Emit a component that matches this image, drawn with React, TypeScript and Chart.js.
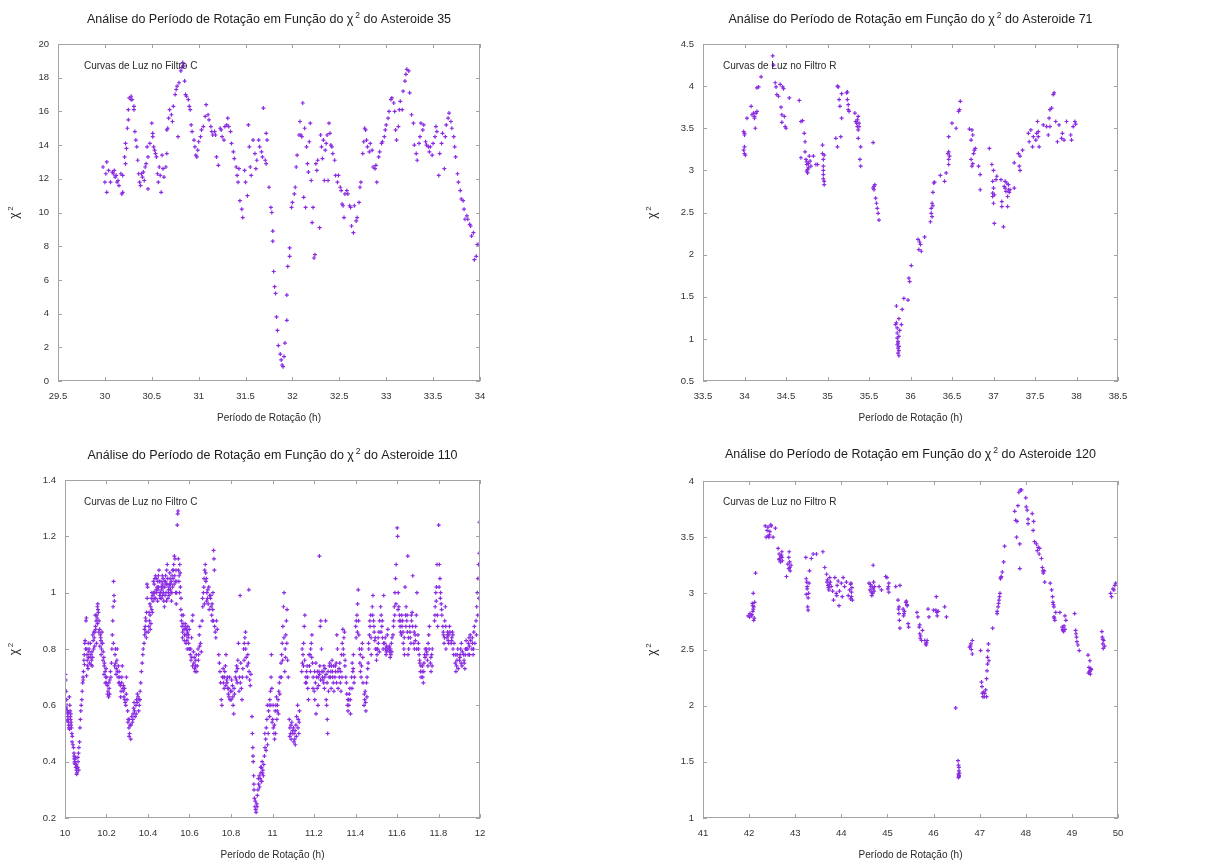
import { useEffect, useRef } from 'react';
import { Chart, registerables } from 'chart.js';

Chart.register(...registerables);

type Pt = [number, number];

// ---------- DATA ----------
const asteroid35: Pt[] = [
  [29.98,12.7],[30.0,11.8],[30.02,11.2],[30.01,12.3],[30.02,13.0],[30.04,12.5],[30.06,11.8],[30.08,12.4],[30.09,12.3],[30.10,12.5],
  [30.11,12.1],[30.12,12.2],[30.13,11.8],[30.14,11.9],[30.15,11.6],[30.17,12.3],[30.18,11.1],[30.19,11.2],[30.19,12.2],[30.21,13.3],
  [30.22,12.9],[30.22,14.1],[30.23,13.8],[30.24,15.0],[30.25,15.5],[30.25,16.1],[30.26,16.8],[30.28,16.7],[30.28,16.9],[30.29,16.7],
  [30.31,16.3],[30.31,16.1],[30.32,14.8],[30.33,14.3],[30.34,13.9],[30.35,13.1],[30.36,12.3],[30.37,11.8],[30.38,11.6],[30.39,12.3],
  [30.40,12.1],[30.41,12.4],[30.42,11.9],[30.43,12.7],[30.44,12.9],[30.45,13.9],[30.46,13.3],[30.46,11.4],[30.48,14.1],[30.50,15.3],
  [30.51,14.7],[30.51,14.5],[30.52,13.9],[30.53,13.7],[30.54,13.5],[30.55,13.3],[30.56,12.3],[30.57,11.8],[30.58,12.7],[30.59,12.2],
  [30.60,11.2],[30.61,13.4],[30.62,12.6],[30.63,12.1],[30.65,12.7],[30.66,13.5],[30.66,14.9],[30.67,15.0],[30.68,15.6],[30.69,16.1],
  [30.71,15.8],[30.72,15.4],[30.73,16.3],[30.75,17.0],[30.76,17.3],[30.77,17.5],[30.78,14.5],[30.79,17.7],[30.81,18.4],[30.82,18.6],
  [30.83,18.9],[30.84,18.7],[30.85,17.8],[30.86,17.0],[30.87,16.9],[30.89,16.7],[30.90,16.3],[30.91,16.1],[30.92,15.2],[30.93,14.8],
  [30.95,14.3],[30.96,13.9],[30.97,13.4],[30.98,13.3],[30.99,13.7],[31.0,14.2],[31.02,14.5],[31.03,14.9],[31.05,15.1],[31.07,15.7],
  [31.08,16.4],[31.10,15.8],[31.11,15.5],[31.13,15.1],[31.14,14.8],[31.15,14.6],[31.17,14.8],[31.18,14.6],[31.19,13.3],[31.21,12.8],
  [31.23,15.0],[31.24,14.9],[31.25,14.5],[31.27,14.3],[31.28,15.1],[31.30,15.2],[31.31,15.6],[31.32,15.1],[31.34,14.8],[31.35,14.1],
  [31.37,13.6],[31.38,13.2],[31.40,12.7],[31.41,12.2],[31.42,11.8],[31.43,12.6],[31.44,10.7],[31.46,10.2],[31.47,9.7],[31.49,12.5],
  [31.50,11.8],[31.52,11.0],[31.53,15.2],[31.54,13.9],[31.55,12.7],[31.56,12.2],[31.58,14.3],[31.60,13.5],[31.61,12.6],[31.62,13.1],
  [31.64,14.3],[31.65,13.9],[31.67,13.6],[31.68,13.3],[31.69,16.2],[31.71,13.1],[31.72,12.9],[31.72,14.7],[31.73,14.3],[31.75,11.5],
  [31.77,10.3],[31.78,10.0],[31.79,8.9],[31.79,8.3],[31.80,6.5],[31.81,5.6],[31.82,5.2],[31.83,3.8],[31.84,3.0],[31.85,2.1],
  [31.87,1.6],[31.88,1.25],[31.89,0.95],[31.90,0.85],[31.91,1.45],[31.92,2.25],[31.94,3.6],[31.94,5.1],[31.95,6.8],[31.97,7.4],
  [31.97,7.9],[31.99,10.3],[32.0,10.6],[32.02,11.1],[32.03,11.5],[32.04,12.7],[32.05,13.4],[32.07,14.6],[32.08,15.4],[32.09,14.6],
  [32.10,14.5],[32.11,16.5],[32.12,10.9],[32.13,15.0],[32.14,10.3],[32.15,13.9],[32.16,12.9],[32.17,12.4],[32.18,14.2],[32.19,15.3],
  [32.20,11.9],[32.21,9.4],[32.22,10.3],[32.23,7.3],[32.24,7.5],[32.25,12.9],[32.26,12.5],[32.27,13.1],[32.29,9.1],[32.30,14.6],
  [32.31,13.9],[32.32,13.2],[32.33,14.3],[32.34,11.9],[32.35,13.7],[32.36,14.1],[32.37,14.6],[32.38,11.9],[32.39,15.3],[32.40,14.7],
  [32.41,14.0],[32.42,13.9],[32.43,13.5],[32.45,13.1],[32.46,12.2],[32.48,11.8],[32.49,12.2],[32.51,11.5],[32.52,11.3],[32.53,10.5],
  [32.54,10.4],[32.55,9.7],[32.56,11.1],[32.58,11.3],[32.59,11.1],[32.61,10.4],[32.62,10.3],[32.63,9.2],[32.65,8.8],[32.66,10.4],
  [32.68,9.5],[32.69,9.7],[32.71,10.6],[32.72,11.5],[32.73,11.8],[32.75,13.5],[32.76,14.2],[32.77,15.0],[32.78,14.9],[32.79,14.3],
  [32.80,13.9],[32.82,13.6],[32.83,14.1],[32.85,13.7],[32.86,12.7],[32.88,12.6],[32.89,12.8],[32.90,11.8],[32.92,13.3],[32.93,13.6],
  [32.95,14.1],[32.96,14.2],[32.98,14.5],[32.99,14.9],[33.0,15.2],[33.02,15.6],[33.03,16.0],[33.05,16.7],[33.06,16.8],[33.08,16.5],
  [33.09,16.0],[33.10,14.9],[33.11,14.3],[33.13,15.1],[33.14,16.1],[33.15,16.6],[33.17,16.1],[33.18,17.2],[33.20,17.8],[33.21,18.2],
  [33.22,18.5],[33.24,18.4],[33.25,17.1],[33.27,15.8],[33.29,15.3],[33.30,14.0],[33.32,13.5],[33.33,13.1],[33.35,14.1],[33.36,14.5],
  [33.37,15.3],[33.39,14.9],[33.40,15.2],[33.42,14.2],[33.43,14.0],[33.45,13.9],[33.46,13.6],[33.47,13.9],[33.49,13.4],[33.50,14.1],
  [33.52,14.5],[33.53,15.1],[33.54,14.8],[33.56,12.2],[33.57,13.5],[33.59,14.1],[33.60,14.7],[33.62,12.6],[33.63,14.5],[33.64,15.2],
  [33.66,15.6],[33.67,15.9],[33.69,15.4],[33.70,15.0],[33.72,14.5],[33.73,13.9],[33.74,13.3],[33.76,12.3],[33.77,11.8],[33.79,11.3],
  [33.80,10.8],[33.82,10.7],[33.83,10.2],[33.84,9.6],[33.86,9.8],[33.87,9.6],[33.89,9.3],[33.90,9.2],[33.91,8.6],[33.93,8.8],
  [33.94,7.2],[33.96,7.4],[33.97,8.1],[33.99,8.1],
];

const asteroid71: Pt[] = [
  [33.99,3.46],[34.0,3.42],[34.0,3.28],[33.99,3.24],[34.0,3.2],[34.01,3.18],[34.0,3.44],
  [34.03,3.62],[34.08,3.76],[34.09,3.66],[34.11,3.68],[34.12,3.62],[34.13,3.5],[34.14,3.68],[34.15,3.7],[34.12,3.64],
  [34.15,3.98],[34.17,3.99],[34.2,4.11],
  [34.34,4.36],[34.35,4.25],[34.37,4.04],[34.38,3.99],
  [34.39,3.9],[34.41,3.88],[34.43,4.02],[34.44,3.75],[34.45,3.66],[34.45,3.57],[34.46,3.99],[34.47,3.97],[34.48,3.64],[34.49,3.52],[34.5,3.5],
  [34.54,3.86],
  [34.66,3.83],[34.68,3.58],[34.7,3.59],[34.72,3.44],[34.73,3.34],[34.73,3.22],[34.74,3.13],[34.75,3.07],[34.76,3.01],[34.76,2.97],
  [34.77,3.03],[34.78,3.17],[34.79,3.11],[34.8,3.05],[34.68,3.15],[34.75,2.99],[34.77,3.08],[34.75,3.1],
  [34.83,3.17],[34.86,3.07],[34.88,3.07],[34.94,3.3],[34.94,3.2],[34.95,3.13],[34.95,3.05],[34.95,3.0],[34.95,2.95],[34.96,2.87],
  [34.96,2.83],[34.95,2.9],[34.96,3.18],
  [35.1,3.38],[35.12,3.28],[35.12,4.0],[35.13,3.99],[35.14,3.84],[35.15,3.76],[35.16,3.4],[35.17,3.62],[35.17,3.91],[35.24,3.93],
  [35.24,3.84],[35.25,3.78],[35.25,3.72],[35.26,3.7],[35.23,3.92],
  [35.33,3.68],[35.34,3.58],[35.35,3.56],[35.36,3.52],[35.37,3.48],[35.37,3.64],[35.37,3.38],[35.38,3.52],[35.39,3.13],[35.4,3.05],
  [35.4,3.28],[35.36,3.6],[35.38,3.56],
  [35.55,3.33],
  [35.55,2.79],[35.56,2.77],[35.57,2.83],[35.58,2.67],[35.59,2.61],[35.6,2.55],[35.61,2.49],[35.62,2.41],[35.56,2.81],
  [35.83,1.39],[35.82,1.17],[35.83,1.19],[35.84,1.13],[35.84,1.07],[35.84,1.01],[35.85,0.95],[35.85,0.89],[35.85,0.83],[35.86,0.8],
  [35.86,0.91],[35.86,1.03],[35.86,1.24],[35.87,1.1],[35.89,1.17],[35.9,1.35],[35.92,1.48],[35.97,1.46],[35.98,1.72],[35.99,1.68],
  [36.01,1.87],[35.85,0.97],[35.86,0.86],[35.84,0.93],
  [36.09,2.18],[36.1,2.06],[36.12,2.12],[36.13,2.04],[36.11,2.15],[36.17,2.21],
  [36.24,2.39],[36.25,2.49],[36.25,2.55],[36.26,2.61],[36.27,2.74],[36.28,2.85],[36.29,2.86],[36.26,2.45],[36.27,2.58],
  [36.36,2.94],[36.41,2.87],[36.43,2.97],[36.45,3.2],[36.46,3.13],[36.46,3.07],[36.46,3.4],[36.47,3.17],[36.46,3.22],
  [36.5,3.56],[36.55,3.5],[36.58,3.7],[36.59,3.72],[36.6,3.82],
  [36.71,3.49],[36.73,3.36],[36.73,3.13],[36.74,3.05],[36.74,3.48],[36.75,3.42],[36.75,3.08],[36.76,3.2],[36.77,3.24],[36.78,3.26],
  [36.82,3.05],[36.84,2.95],[36.84,2.77],
  [36.95,3.26],[36.98,3.07],[36.99,2.87],[36.99,2.73],[36.99,2.69],[37.0,2.61],[37.0,3.0],[37.0,2.79],[37.01,2.37],[37.03,2.89],
  [37.04,2.93],[37.01,2.71],
  [37.09,2.89],[37.1,2.63],[37.1,2.57],[37.12,2.33],[37.13,2.81],[37.14,2.87],[37.14,2.79],[37.15,2.75],[37.17,2.69],[37.17,2.57],
  [37.18,2.83],[37.18,2.77],[37.2,2.77],[37.25,2.79],[37.16,2.85],[37.19,2.74],
  [37.25,3.09],[37.3,3.2],[37.31,3.05],[37.32,3.0],[37.32,3.17],[37.35,3.24],
  [37.42,3.44],[37.43,3.34],[37.45,3.48],[37.47,3.28],[37.48,3.4],[37.51,3.36],[37.52,3.44],[37.53,3.58],[37.54,3.46],[37.55,3.28],
  [37.54,3.4],
  [37.6,3.54],[37.64,3.52],[37.66,3.42],[37.67,3.62],[37.68,3.72],[37.68,3.52],[37.7,3.74],[37.72,3.9],[37.73,3.92],
  [37.75,3.58],[37.77,3.34],[37.79,3.54],[37.82,3.38],[37.83,3.44],[37.85,3.36],[37.88,3.58],[37.93,3.42],[37.94,3.36],[37.96,3.52],
  [37.98,3.58],[37.99,3.55],
];

const asteroid110: Pt[] = [
  [10.002,0.71],[10.004,0.69],[10.006,0.65],[10.008,0.62],[10.01,0.6],[10.012,0.58],[10.014,0.56],[10.015,0.55],[10.017,0.54],[10.018,0.53],[10.013,0.57],[10.019,0.52],
  [10.021,0.63],[10.023,0.6],[10.025,0.58],[10.027,0.55],[10.029,0.53],[10.031,0.52],[10.033,0.5],[10.035,0.49],[10.038,0.46],[10.026,0.56],[10.03,0.54],
  [10.041,0.45],[10.043,0.43],[10.045,0.41],[10.047,0.40],[10.05,0.39],[10.052,0.38],[10.055,0.37],[10.048,0.41],[10.044,0.42],[10.058,0.36],[10.054,0.39],[10.057,0.38],
  [10.061,0.38],[10.063,0.40],[10.065,0.43],[10.067,0.45],[10.07,0.47],[10.072,0.52],[10.074,0.55],[10.076,0.58],[10.078,0.6],
  [10.081,0.62],[10.083,0.65],[10.085,0.68],[10.087,0.7],[10.089,0.72],[10.091,0.76],[10.093,0.78],[10.095,0.82],[10.097,0.83],[10.088,0.69],
  [10.101,0.9],[10.103,0.91],[10.105,0.8],[10.107,0.76],[10.109,0.74],[10.111,0.73],[10.113,0.77],[10.115,0.79],[10.118,0.75],[10.106,0.78],[10.112,0.82],
  [10.122,0.82],[10.125,0.78],[10.128,0.76],[10.131,0.74],[10.134,0.85],[10.138,0.8],[10.13,0.79],[10.136,0.83],
  [10.141,0.84],[10.144,0.86],[10.147,0.88],[10.15,0.9],[10.153,0.92],[10.156,0.95],[10.158,0.96],[10.152,0.82],[10.148,0.87],[10.155,0.91],
  [10.161,0.93],[10.164,0.9],[10.167,0.87],[10.17,0.85],[10.173,0.83],[10.176,0.8],[10.179,0.82],[10.172,0.84],[10.168,0.81],
  [10.181,0.82],[10.184,0.79],[10.187,0.77],[10.19,0.75],[10.193,0.72],[10.196,0.7],[10.199,0.68],[10.189,0.74],
  [10.201,0.7],[10.204,0.67],[10.207,0.65],[10.21,0.63],[10.213,0.66],[10.216,0.69],[10.219,0.72],[10.205,0.64],
  [10.221,0.7],[10.224,0.75],[10.226,0.8],[10.228,0.85],[10.23,0.9],[10.232,0.95],[10.234,1.04],[10.236,0.99],[10.238,0.97],[10.233,0.82],
  [10.241,0.78],[10.244,0.75],[10.247,0.73],[10.25,0.76],[10.253,0.72],[10.256,0.7],[10.259,0.68],[10.243,0.8],
  [10.261,0.72],[10.264,0.7],[10.267,0.67],[10.27,0.65],[10.273,0.68],[10.276,0.74],[10.279,0.66],
  [10.281,0.65],[10.284,0.63],[10.287,0.66],[10.29,0.61],[10.293,0.6],[10.296,0.7],[10.299,0.62],
  [10.302,0.58],[10.305,0.55],[10.308,0.52],[10.311,0.5],[10.314,0.53],[10.317,0.48],[10.31,0.55],
  [10.322,0.56],[10.325,0.54],[10.328,0.57],[10.331,0.59],[10.335,0.58],[10.338,0.56],
  [10.342,0.6],[10.345,0.62],[10.348,0.61],[10.352,0.63],[10.355,0.58],[10.358,0.6],
  [10.362,0.65],[10.365,0.68],[10.368,0.72],[10.372,0.75],[10.375,0.78],[10.361,0.62],
  [10.381,0.82],[10.384,0.85],[10.387,0.88],[10.39,0.9],[10.393,0.93],[10.396,0.98],[10.398,1.02],[10.395,1.03],[10.39,0.86],
  [10.401,0.86],[10.404,0.88],[10.407,0.9],[10.41,0.92],[10.413,0.95],[10.416,0.98],[10.419,1.0],[10.411,0.87],
  [10.421,0.93],[10.424,0.97],[10.427,1.0],[10.43,1.03],[10.433,1.05],[10.436,1.06],[10.439,1.01],[10.43,0.98],
  [10.441,1.0],[10.444,1.02],[10.447,1.04],[10.45,1.06],[10.453,1.08],[10.456,0.99],[10.459,0.98],[10.448,1.01],
  [10.461,1.0],[10.464,1.02],[10.467,1.01],[10.47,0.99],[10.473,1.05],[10.476,0.97],[10.479,0.95],[10.47,1.03],
  [10.481,1.02],[10.484,1.04],[10.487,1.0],[10.49,1.08],[10.493,1.1],[10.496,0.98],[10.499,1.01],[10.488,1.03],
  [10.501,1.02],[10.504,1.03],[10.507,1.05],[10.51,1.0],[10.513,0.97],[10.516,1.06],[10.519,1.08],[10.508,1.01],
  [10.521,1.05],[10.524,1.1],[10.527,1.13],[10.53,1.12],[10.533,1.0],[10.536,0.96],[10.539,1.04],
  [10.541,1.24],[10.543,1.28],[10.545,1.29],[10.547,1.08],[10.55,1.06],[10.553,1.1],[10.556,1.02],[10.559,0.98],
  [10.561,0.9],[10.564,0.88],[10.567,0.86],[10.57,0.92],[10.573,0.87],[10.576,0.85],[10.579,0.89],
  [10.581,0.88],[10.584,0.85],[10.587,0.83],[10.59,0.86],[10.593,0.84],[10.596,0.82],[10.599,0.87],
  [10.601,0.8],[10.604,0.78],[10.607,0.76],[10.61,0.84],[10.613,0.9],[10.616,0.92],[10.619,0.79],
  [10.621,0.75],[10.624,0.73],[10.627,0.72],[10.63,0.76],[10.633,0.78],[10.637,0.74],
  [10.641,0.8],[10.644,0.78],[10.647,0.85],[10.65,0.88],[10.653,0.82],[10.657,0.79],
  [10.661,0.9],[10.664,0.95],[10.667,1.0],[10.67,1.05],[10.673,1.08],[10.676,1.1],[10.679,1.04],
  [10.681,1.05],[10.684,1.0],[10.687,0.98],[10.69,0.96],[10.693,1.02],[10.697,0.99],
  [10.701,0.98],[10.704,0.95],[10.707,0.92],[10.71,0.9],[10.713,1.0],[10.716,1.15],[10.718,1.12],[10.712,0.94],
  [10.721,0.88],[10.724,0.86],[10.727,0.84],[10.73,0.9],[10.734,0.87],
  [10.741,0.78],[10.744,0.75],[10.747,0.72],[10.75,0.68],[10.753,0.62],[10.756,0.6],[10.759,0.7],
  [10.761,0.7],[10.764,0.68],[10.767,0.66],[10.77,0.72],[10.773,0.74],[10.776,0.78],[10.779,0.69],
  [10.781,0.68],[10.784,0.66],[10.787,0.64],[10.79,0.63],[10.793,0.7],[10.797,0.65],
  [10.801,0.62],[10.804,0.65],[10.807,0.67],[10.81,0.6],[10.813,0.57],[10.817,0.64],
  [10.821,0.7],[10.824,0.72],[10.827,0.74],[10.83,0.68],[10.833,0.76],[10.836,0.82],[10.839,0.65],
  [10.841,0.7],[10.844,0.99],[10.847,0.75],[10.85,0.66],[10.853,0.62],[10.857,0.73],
  [10.861,0.8],[10.864,0.82],[10.867,0.84],[10.87,0.86],[10.873,0.77],[10.876,0.7],
  [10.881,0.78],[10.884,0.75],[10.887,0.72],[10.89,0.69],[10.886,1.01],[10.893,0.67],[10.896,0.71],
  [10.901,0.56],[10.903,0.5],[10.905,0.45],[10.907,0.4],[10.909,0.35],[10.911,0.3],[10.913,0.27],[10.915,0.24],[10.906,0.42],[10.91,0.32],
  [10.921,0.22],[10.924,0.25],[10.927,0.28],[10.93,0.3],[10.933,0.32],[10.936,0.35],[10.919,0.23],
  [10.941,0.34],[10.944,0.36],[10.947,0.38],[10.95,0.4],[10.953,0.37],[10.956,0.35],[10.948,0.33],
  [10.961,0.42],[10.964,0.45],[10.967,0.48],[10.97,0.52],[10.973,0.55],[10.976,0.46],
  [10.981,0.58],[10.984,0.6],[10.987,0.62],[10.99,0.65],[10.993,0.7],[10.995,0.78],[10.998,0.54],
  [11.001,0.55],[11.004,0.52],[11.007,0.5],[11.01,0.48],[11.013,0.58],[11.016,0.6],[11.019,0.63],
  [11.021,0.55],[11.024,0.6],[11.027,0.62],[11.03,0.65],[11.033,0.68],[11.037,0.7],
  [11.041,0.75],[11.044,0.78],[11.047,0.82],[11.05,0.88],[11.053,0.95],[11.056,1.0],[11.059,0.72],
  [11.061,0.8],[11.064,0.85],[11.067,0.9],[11.07,0.94],[11.073,0.76],[11.076,0.7],
  [11.081,0.55],[11.084,0.52],[11.087,0.5],[11.09,0.48],[11.093,0.54],[11.097,0.51],
  [11.101,0.52],[11.104,0.5],[11.107,0.48],[11.11,0.46],[11.113,0.53],[11.116,0.56],
  [11.121,0.6],[11.124,0.55],[11.127,0.5],[11.13,0.58],
  [11.141,0.72],[11.144,0.75],[11.147,0.78],[11.15,0.82],[11.153,0.88],[11.156,0.92],[11.159,0.68],
  [11.161,0.7],[11.164,0.72],[11.167,0.74],[11.17,0.66],[11.173,0.62],[11.176,0.78],
  [11.181,0.78],[11.184,0.8],[11.187,0.82],[11.19,0.85],[11.193,0.75],[11.196,0.7],
  [11.201,0.65],[11.204,0.62],[11.207,0.68],[11.21,0.57],[11.213,0.7],[11.216,0.72],[11.219,0.6],
  [11.221,0.7],[11.224,0.72],[11.227,0.71],[11.23,0.88],[11.233,0.9],[11.226,1.13],[11.236,0.8],
  [11.241,0.7],[11.244,0.72],[11.247,0.68],[11.25,0.66],[11.253,0.73],[11.256,0.9],[11.259,0.62],
  [11.261,0.6],[11.264,0.55],[11.266,0.5],[11.27,0.65],[11.273,0.7],[11.276,0.75],
  [11.281,0.72],[11.284,0.74],[11.287,0.76],[11.29,0.7],[11.293,0.68],[11.296,0.65],
  [11.301,0.7],[11.304,0.72],[11.307,0.75],[11.31,0.85],[11.313,0.8],[11.316,0.66],
  [11.321,0.73],[11.324,0.75],[11.327,0.68],[11.33,0.65],[11.333,0.78],[11.336,0.82],[11.339,0.87],
  [11.341,0.8],[11.344,0.84],[11.347,0.86],[11.35,0.76],[11.353,0.7],[11.356,0.68],
  [11.361,0.6],[11.364,0.58],[11.367,0.62],[11.37,0.64],[11.373,0.66],[11.376,0.57],
  [11.381,0.7],[11.384,0.75],[11.387,0.72],[11.39,0.78],[11.393,0.68],
  [11.401,0.88],[11.404,0.9],[11.407,0.92],[11.41,0.96],[11.413,1.01],[11.416,0.85],[11.419,0.8],
  [11.421,0.75],[11.424,0.72],[11.427,0.7],[11.43,0.8],[11.433,0.82],[11.436,0.68],
  [11.441,0.6],[11.444,0.62],[11.447,0.65],[11.45,0.58],[11.453,0.68],[11.456,0.7],[11.459,0.73],
  [11.461,0.75],[11.464,0.8],[11.467,0.85],[11.47,0.88],[11.473,0.92],[11.476,0.78],
  [11.481,0.95],[11.484,0.99],[11.487,0.9],[11.49,0.86],[11.493,0.83],[11.496,0.8],
  [11.501,0.76],[11.504,0.78],[11.507,0.8],[11.51,0.82],[11.513,0.86],[11.516,0.9],
  [11.521,0.95],[11.524,0.92],[11.527,0.88],[11.53,0.84],[11.533,0.8],[11.536,0.99],
  [11.541,0.82],[11.544,0.8],[11.547,0.78],[11.55,0.81],[11.553,0.85],[11.556,0.87],
  [11.561,0.8],[11.564,0.79],[11.567,0.77],[11.57,0.78],[11.573,0.82],[11.576,0.84],
  [11.581,0.85],[11.584,0.9],[11.587,0.95],[11.59,1.0],[11.593,1.05],[11.596,1.1],
  [11.601,1.23],[11.603,1.2],[11.606,1.0],[11.609,0.95],[11.612,0.92],[11.615,0.88],[11.618,0.9],
  [11.621,0.85],[11.624,0.88],[11.627,0.9],[11.63,0.82],[11.633,0.8],[11.636,0.78],[11.639,1.02],
  [11.641,0.92],[11.644,0.95],[11.647,0.9],[11.65,0.86],[11.653,0.78],[11.656,0.8],[11.652,1.13],
  [11.661,0.88],[11.664,0.84],[11.667,0.82],[11.67,0.9],[11.673,0.93],[11.676,1.06],
  [11.681,0.82],[11.684,0.8],[11.687,0.85],[11.69,0.88],[11.693,0.92],[11.696,1.0],
  [11.701,0.85],[11.704,0.8],[11.707,0.78],[11.71,0.75],[11.713,0.72],[11.716,0.7],
  [11.721,0.72],[11.724,0.7],[11.727,0.68],[11.73,0.75],[11.733,0.78],[11.736,0.8],
  [11.741,0.8],[11.744,0.78],[11.747,0.76],[11.75,0.82],[11.753,0.85],[11.756,0.88],
  [11.761,0.75],[11.764,0.72],[11.767,0.78],[11.77,0.8],
  [11.781,0.9],[11.784,0.95],[11.787,1.0],[11.79,1.02],[11.793,1.1],[11.796,0.88],
  [11.801,1.24],[11.804,1.1],[11.807,1.05],[11.81,1.0],[11.813,0.96],[11.816,0.92],
  [11.821,0.88],[11.824,0.85],[11.827,0.82],[11.83,0.9],[11.833,0.95],[11.836,0.8],
  [11.841,0.84],[11.844,0.86],[11.847,0.83],[11.85,0.85],[11.853,0.88],
  [11.861,0.82],[11.864,0.84],[11.867,0.86],[11.87,0.8],[11.873,0.78],
  [11.881,0.75],[11.884,0.72],[11.887,0.74],[11.89,0.78],[11.893,0.8],
  [11.901,0.76],[11.904,0.78],[11.907,0.8],[11.91,0.82],[11.913,0.74],
  [11.921,0.78],[11.924,0.75],[11.927,0.73],[11.93,0.8],[11.933,0.83],
  [11.941,0.8],[11.944,0.82],[11.947,0.84],[11.95,0.78],[11.953,0.85],
  [11.961,0.8],[11.964,0.82],[11.967,0.78],[11.97,0.86],[11.973,0.88],
  [11.981,0.9],[11.984,0.95],[11.987,1.0],[11.99,1.05],[11.993,1.1],[11.997,1.25],[11.995,0.98],
  [10.006,0.59],[10.011,0.545],[10.016,0.575],[10.022,0.515],[10.028,0.57],[10.034,0.47],[10.046,0.395],[10.051,0.415],[10.056,0.355],[10.062,0.415],[10.066,0.37],
  [10.094,0.745],[10.099,0.8],[10.104,0.705],[10.116,0.8],[10.121,0.77],[10.126,0.745],[10.133,0.77],[10.139,0.86],[10.143,0.81],[10.146,0.92],[10.157,0.89],
  [10.159,0.94],[10.163,0.86],[10.174,0.78],[10.178,0.86],[10.183,0.76],[10.188,0.71],[10.194,0.68],[10.198,0.73],
  [10.211,0.68],[10.215,0.64],[10.239,0.74],[10.246,0.71],[10.252,0.8],[10.257,0.74],[10.263,0.68],[10.268,0.63],[10.274,0.7],[10.282,0.67],[10.288,0.62],[10.295,0.64],
  [10.303,0.54],[10.309,0.49],[10.318,0.53],[10.327,0.55],[10.333,0.61],[10.343,0.57],[10.349,0.64],[10.357,0.62],
  [10.377,0.8],[10.383,0.87],[10.388,0.91],[10.392,0.84],[10.405,0.93],[10.409,0.96],[10.414,0.89],[10.418,0.94],[10.423,0.99],[10.426,1.04],[10.432,1.0],[10.437,0.98],
  [10.442,1.05],[10.446,0.97],[10.451,1.02],[10.455,1.04],[10.458,1.0],[10.463,1.04],[10.466,0.98],[10.469,1.06],[10.472,1.02],[10.475,1.0],[10.478,1.04],
  [10.482,0.99],[10.485,1.06],[10.489,0.97],[10.492,1.03],[10.495,1.05],[10.498,1.0],[10.502,0.99],[10.505,1.07],[10.509,1.03],[10.512,1.04],[10.515,1.0],[10.518,1.02],
  [10.522,1.08],[10.526,1.03],[10.529,1.06],[10.532,1.04],[10.535,1.08],[10.538,1.0],[10.546,1.12],[10.549,1.04],[10.552,1.0],[10.555,1.07],[10.558,0.94],
  [10.563,0.92],[10.566,0.84],[10.569,0.89],[10.575,0.83],[10.578,0.87],[10.583,0.82],[10.586,0.87],[10.589,0.8],[10.592,0.88],[10.595,0.85],[10.598,0.8],
  [10.606,0.8],[10.611,0.77],[10.615,0.74],[10.623,0.77],[10.629,0.74],[10.635,0.72],[10.643,0.76],[10.649,0.81],
  [10.663,0.98],[10.669,1.02],[10.672,0.96],[10.678,1.07],[10.683,0.97],[10.688,1.01],[10.695,0.94],[10.703,0.99],[10.709,0.96],[10.715,0.9],[10.72,1.08],
  [10.762,0.73],[10.768,0.7],[10.775,0.67],[10.783,0.7],[10.789,0.66],[10.795,0.62],[10.803,0.69],[10.809,0.63],[10.815,0.66],[10.826,0.69],[10.832,0.73],
  [10.845,0.68],[10.855,0.7],[10.863,0.76],[10.871,0.8],[10.878,0.74],[10.883,0.82],
  [10.917,0.26],[10.926,0.24],[10.932,0.34],[10.938,0.31],[10.943,0.38],[10.946,0.33],[10.952,0.36],[10.958,0.39],[10.963,0.5],[10.969,0.44],[10.975,0.6],
  [10.979,0.5],[10.986,0.56],[10.992,0.6],[10.997,0.66],
  [11.003,0.6],[11.009,0.53],[11.015,0.5],[11.023,0.58],[11.029,0.57],[11.035,0.64],[11.043,0.7],[11.049,0.76],[11.055,0.84],[11.063,0.77],[11.069,0.82],
  [11.083,0.49],[11.089,0.53],[11.095,0.5],[11.103,0.47],[11.109,0.51],[11.115,0.49],[11.123,0.52],[11.129,0.54],
  [11.143,0.8],[11.149,0.74],[11.155,0.76],[11.163,0.68],[11.169,0.7],[11.178,0.74],[11.183,0.72],[11.189,0.77],[11.195,0.66],
  [11.203,0.72],[11.209,0.75],[11.215,0.66],[11.222,0.67],[11.228,0.74],[11.232,0.69],[11.238,0.72],[11.243,0.69],[11.248,0.74],[11.252,0.7],[11.258,0.71],
  [11.263,0.68],[11.268,0.72],[11.274,0.74],[11.279,0.7],[11.283,0.66],[11.289,0.72],[11.295,0.74],[11.303,0.74],[11.309,0.68],[11.315,0.72],[11.322,0.7],
  [11.329,0.72],[11.335,0.7],
  [11.343,0.78],[11.349,0.74],[11.358,0.64],[11.363,0.62],[11.368,0.6],[11.375,0.62],[11.383,0.66],[11.389,0.73],[11.395,0.7],
  [11.403,0.84],[11.409,0.86],[11.415,0.9],[11.423,0.78],[11.429,0.74],[11.435,0.77],[11.443,0.64],[11.449,0.61],[11.455,0.63],[11.463,0.82],[11.469,0.9],[11.475,0.84],
  [11.483,0.92],[11.489,0.88],[11.495,0.84],[11.503,0.8],[11.509,0.84],[11.515,0.79],[11.523,0.86],[11.529,0.9],[11.535,0.82],
  [11.543,0.84],[11.549,0.79],[11.555,0.8],[11.563,0.81],[11.569,0.8],[11.575,0.79],[11.583,0.88],[11.589,0.92],[11.595,0.96],
  [11.605,0.94],[11.611,0.9],[11.617,0.86],[11.623,0.92],[11.629,0.86],[11.635,0.84],[11.643,0.88],[11.649,0.92],[11.655,0.84],[11.663,0.86],[11.669,0.92],
  [11.675,0.88],[11.683,0.86],[11.689,0.83],[11.695,0.8],
  [11.703,0.82],[11.709,0.76],[11.715,0.74],[11.723,0.74],[11.729,0.72],[11.735,0.77],[11.743,0.79],[11.749,0.74],[11.755,0.8],[11.763,0.77],[11.769,0.74],
  [11.783,0.92],[11.789,0.97],[11.795,0.92],[11.803,1.02],[11.809,0.98],[11.815,0.94],[11.823,0.86],[11.829,0.84],[11.835,0.88],[11.843,0.85],[11.849,0.82],
  [11.855,0.86],[11.863,0.83],[11.869,0.85],[11.875,0.82],
  [11.883,0.78],[11.889,0.76],[11.895,0.73],[11.903,0.77],[11.909,0.75],[11.915,0.79],[11.923,0.76],[11.929,0.78],[11.935,0.8],[11.943,0.78],[11.949,0.81],
  [11.955,0.83],[11.963,0.84],[11.969,0.8],[11.975,0.82],[11.983,0.85],[11.989,0.92],[11.996,1.14],
];

const asteroid120: Pt[] = [
  [41.98,2.80],[42.01,2.79],[42.02,2.82],[42.05,2.80],[42.07,2.91],[42.08,2.89],[42.09,2.86],[42.10,2.76],[42.09,3.0],[42.14,3.18],
  [42.08,2.84],[42.12,2.92],[42.1,2.88],[42.11,2.78],[42.06,2.81],
  [42.35,3.6],[42.39,3.56],[42.41,3.59],[42.43,3.5],[42.45,3.55],[42.48,3.6],[42.52,3.5],[42.57,3.58],[42.41,3.51],[42.37,3.5],
  [42.44,3.52],[42.47,3.61],
  [42.63,3.4],[42.65,3.35],[42.66,3.31],[42.68,3.28],[42.70,3.34],[42.71,3.37],[42.72,3.29],[42.65,3.3],[42.69,3.33],[42.71,3.32],
  [42.81,3.15],[42.84,3.26],[42.86,3.32],[42.88,3.23],[42.89,3.2],[42.87,3.37],[42.91,3.25],[42.86,3.22],[42.88,3.28],
  [43.23,3.32],[43.24,3.13],[43.26,3.04],[43.27,2.88],[43.28,2.85],[43.30,3.09],[43.31,3.2],[43.28,2.96],[43.24,2.99],[43.26,3.06],
  [43.25,3.1],[43.29,3.0],
  [43.35,3.31],[43.39,3.35],[43.46,3.35],[43.60,3.37],
  [43.64,3.23],[43.68,3.17],[43.69,3.10],[43.71,3.07],[43.73,3.03],[43.75,3.14],[43.78,3.06],[43.81,3.02],[43.76,3.10],[43.7,3.12],
  [43.72,3.05],[43.74,3.08],
  [43.83,2.94],[43.86,3.14],[43.89,3.0],[43.91,3.07],[43.95,2.89],[43.96,3.02],[44.0,3.09],[44.02,2.97],[44.04,3.14],[43.9,2.98],
  [43.93,3.11],
  [44.07,3.06],[44.11,3.10],[44.15,2.98],[44.18,3.03],[44.20,2.95],[44.21,3.09],[44.22,3.01],[44.24,2.94],[44.23,3.05],[44.2,3.08],
  [44.22,2.97],
  [44.60,3.09],[44.62,3.03],[44.64,3.06],[44.66,2.98],[44.67,3.06],[44.69,3.25],[44.70,3.10],[44.65,3.01],[44.72,3.06],[44.68,3.0],
  [44.63,3.08],[44.71,3.02],[44.69,3.04],
  [44.82,3.06],[44.87,3.03],[44.96,3.15],[44.99,3.14],[45.01,3.04],[45.03,3.01],[45.03,3.09],[45.02,3.06],
  [45.18,3.06],[45.27,3.07],[45.23,2.94],[45.24,2.86],[45.25,2.82],[45.26,2.76],[45.27,2.69],[45.34,2.86],[45.35,2.80],[45.37,2.84],
  [45.40,2.92],[45.41,2.93],[45.43,2.89],[45.45,2.73],[45.46,2.70],[45.25,2.88],[45.36,2.82],[45.42,2.9],
  [45.64,2.83],[45.66,2.79],[45.69,2.70],[45.70,2.64],[45.71,2.60],[45.74,2.58],[45.76,2.67],[45.81,2.58],[45.83,2.55],[45.84,2.54],
  [45.86,2.58],[45.88,2.86],[45.90,2.79],[45.72,2.62],[45.7,2.72],[45.85,2.56],
  [46.0,2.85],[46.05,2.85],[46.06,2.97],[46.08,2.80],[46.10,2.84],[46.24,2.88],[46.28,2.79],[46.07,2.83],
  [46.48,1.98],[46.53,1.51],[46.54,1.47],[46.55,1.42],[46.55,1.38],[46.54,1.36],[46.55,1.45],[46.56,1.4],[46.54,1.39],[46.55,1.37],
  [46.78,2.52],[46.81,2.55],[46.82,2.50],[46.84,2.46],[46.84,2.58],[46.8,2.53],
  [47.02,2.49],[47.04,2.21],[47.05,2.17],[47.06,2.11],[47.07,2.08],[47.11,2.11],[47.13,2.14],[47.15,2.24],[47.16,2.31],[47.17,2.37],
  [47.17,2.43],[47.18,2.49],[47.19,2.55],[47.20,2.40],[47.28,2.69],[47.15,2.08],[47.10,2.08],[47.08,2.12],
  [47.38,2.82],[47.40,2.88],[47.42,2.94],[47.44,3.0],[47.45,3.13],[47.47,3.15],[47.49,3.19],[47.52,3.28],[47.54,3.42],[47.38,2.84],
  [47.41,2.91],[47.43,2.97],[47.46,3.14],
  [47.76,3.73],[47.78,3.65],[47.80,3.50],[47.81,3.64],[47.83,3.78],[47.85,3.90],[47.87,3.44],[47.87,3.22],[47.88,3.92],[47.91,3.92],
  [48.0,3.85],[48.01,3.77],[48.03,3.74],[48.05,3.66],[48.05,3.62],
  [48.14,3.71],[48.16,3.56],[48.17,3.64],[48.19,3.46],[48.23,3.44],[48.27,3.41],[48.29,3.35],[48.30,3.40],[48.34,3.31],[48.36,3.23],
  [48.38,3.18],[48.40,3.20],[48.41,3.10],[48.25,3.38],[48.37,3.2],
  [48.53,3.09],[48.56,3.03],[48.58,2.97],[48.59,2.92],[48.61,2.88],[48.61,2.79],[48.63,2.76],[48.65,2.83],[48.6,2.9],[48.62,2.78],
  [48.74,2.83],[48.79,2.70],[48.81,2.67],[48.82,2.66],[48.85,2.80],[48.87,2.76],[48.85,2.68],[48.8,2.68],[48.83,2.71],
  [49.06,2.82],[49.08,2.67],[49.10,2.61],[49.11,2.57],[49.13,2.54],[49.16,2.49],[49.09,2.64],
  [49.35,2.45],[49.39,2.40],[49.37,2.34],[49.39,2.31],[49.40,2.28],[49.42,2.32],[49.38,2.3],[49.41,2.33],[49.36,2.29],
  [49.65,2.66],[49.66,2.61],[49.67,2.55],[49.68,2.51],[49.69,2.58],[49.71,2.53],[49.67,2.59],
  [49.84,3.0],[49.86,2.97],[49.89,3.04],[49.91,3.03],[49.93,3.07],[49.95,3.09],
];

const asteroidNames = ['35', '71', '110', '120'];
const filterNotes = ['Curvas de Luz no Filtro C', 'Curvas de Luz no Filtro R', 'Curvas de Luz no Filtro C', 'Curvas de Luz no Filtro R'];
const titlePrefix = 'Análise do Período de Rotação em Função do χ';
const titleSuffix = ' do Asteroide ';
const xAxisTitle = 'Período de Rotação (h)';
const xRanges: [number, number, number][] = [[29.5, 34, 0.5], [33.5, 38.5, 0.5], [10, 12, 0.2], [41, 50, 1]];
const yRanges: [number, number, number][] = [[0, 20, 2], [0.5, 4.5, 0.5], [0.2, 1.4, 0.2], [1, 4, 0.5]];
const seriesList: Pt[][] = [asteroid35, asteroid71, asteroid110, asteroid120];

// ---------- LAYOUT ----------
const FONT = '"Liberation Sans", Arial, Helvetica, sans-serif';
const POINT_COLOR = '#8a2be2';

type Layout = {
  x: number; y: number; w: number; h: number;
  left: number; right: number; top: number; bottom: number;
  titleY: number; noteX: number; noteY: number; xTitleY: number; yTitleX: number;
};

const layouts: Layout[] = [
  { x: 0, y: 0, w: 610, h: 430, left: 58, right: 480, top: 44, bottom: 381, titleY: 19, noteX: 84, noteY: 66, xTitleY: 418, yTitleX: 14 },
  { x: 610, y: 0, w: 610, h: 430, left: 93, right: 508, top: 44, bottom: 381, titleY: 19, noteX: 113, noteY: 66, xTitleY: 418, yTitleX: 42 },
  { x: 0, y: 430, w: 610, h: 435, left: 65, right: 480, top: 50, bottom: 388, titleY: 25, noteX: 84, noteY: 72, xTitleY: 425, yTitleX: 14 },
  { x: 610, y: 430, w: 610, h: 435, left: 93, right: 508, top: 51, bottom: 388, titleY: 24, noteX: 113, noteY: 72, xTitleY: 425, yTitleX: 42 },
];

function drawChiText(ctx: CanvasRenderingContext2D, pre: string, post: string, cx: number, cy: number, size: number, supSize: number) {
  ctx.font = `${size}px ${FONT}`;
  const w1 = ctx.measureText(pre).width;
  const w3 = ctx.measureText(post).width;
  ctx.font = `${supSize}px ${FONT}`;
  const w2 = ctx.measureText('2').width;
  const gap = size * 0.15;
  const total = w1 + gap + w2 + w3;
  let x = cx - total / 2;
  const base = cy + size * 0.35;
  ctx.textAlign = 'left';
  ctx.textBaseline = 'alphabetic';
  ctx.font = `${size}px ${FONT}`;
  ctx.fillText(pre, x, base);
  x += w1 + gap;
  ctx.font = `${supSize}px ${FONT}`;
  ctx.fillText('2', x, base - size * 0.42);
  x += w2;
  ctx.font = `${size}px ${FONT}`;
  ctx.fillText(post, x, base);
}

const decorPlugin = {
  id: 'decor',
  afterDraw(chart: any, _args: any, o: any) {
    const ctx: CanvasRenderingContext2D = chart.ctx;
    const a = chart.chartArea;
    const xs = chart.scales.x;
    const ys = chart.scales.y;
    ctx.save();
    ctx.strokeStyle = '#a3a3a3';
    ctx.lineWidth = 1;
    ctx.strokeRect(a.left + 0.5, a.top + 0.5, a.right - a.left - 1, a.bottom - a.top - 1);
    const L = 4;
    ctx.beginPath();
    xs.ticks.forEach((t: any) => {
      const p = Math.round(xs.getPixelForValue(t.value)) + 0.5;
      ctx.moveTo(p, a.bottom); ctx.lineTo(p, a.bottom - L);
      ctx.moveTo(p, a.top); ctx.lineTo(p, a.top + L);
    });
    ys.ticks.forEach((t: any) => {
      const p = Math.round(ys.getPixelForValue(t.value)) + 0.5;
      ctx.moveTo(a.left, p); ctx.lineTo(a.left + L, p);
      ctx.moveTo(a.right, p); ctx.lineTo(a.right - L, p);
    });
    ctx.stroke();

    const cx = (a.left + a.right) / 2;
    ctx.fillStyle = '#1c1c1c';
    drawChiText(ctx, o.titlePre, o.titlePost, cx, o.titleY, 12.5, 8.5);

    ctx.fillStyle = '#2a2a2a';
    ctx.font = `10px ${FONT}`;
    ctx.textAlign = 'center';
    ctx.textBaseline = 'middle';
    ctx.fillText(o.xTitle, cx, o.xTitleY);

    ctx.textAlign = 'left';
    ctx.fillText(o.note, o.noteX, o.noteY);

    ctx.save();
    ctx.translate(o.yTitleX, (a.top + a.bottom) / 2);
    ctx.rotate(-Math.PI / 2);
    drawChiText(ctx, 'χ', '', 0, 0, 12, 8);
    ctx.restore();

    ctx.restore();
  },
};

const fmt = (v: any) => String(Number(Number(v).toFixed(2)));

function Panel({ idx }: { idx: number }) {
  const ref = useRef<HTMLCanvasElement>(null);
  const L = layouts[idx];
  useEffect(() => {
    const [xmin, xmax, xstep] = xRanges[idx];
    const [ymin, ymax, ystep] = yRanges[idx];
    const tickFont = { family: FONT, size: 9.5 };
    const chart = new Chart(ref.current as HTMLCanvasElement, {
      type: 'scatter',
      data: {
        datasets: [{
          data: seriesList[idx].map(([x, y]) => ({ x, y })),
          pointStyle: 'cross',
          radius: 2,
          borderWidth: 1.2,
          borderColor: POINT_COLOR,
          backgroundColor: POINT_COLOR,
        } as any],
      },
      options: {
        animation: false,
        responsive: false,
        maintainAspectRatio: false,
        events: [],
        layout: { padding: { top: L.top, right: L.w - L.right, left: 0, bottom: 0 } },
        plugins: {
          legend: { display: false },
          tooltip: { enabled: false },
          decor: {
            titlePre: titlePrefix,
            titlePost: titleSuffix + asteroidNames[idx],
            titleY: L.titleY,
            xTitle: xAxisTitle,
            xTitleY: L.xTitleY,
            note: filterNotes[idx],
            noteX: L.noteX,
            noteY: L.noteY,
            yTitleX: L.yTitleX,
          },
        } as any,
        scales: {
          x: {
            type: 'linear',
            min: xmin, max: xmax,
            grid: { display: false, drawTicks: false },
            border: { display: false },
            ticks: { stepSize: xstep, callback: fmt, color: '#333', font: tickFont, padding: 10, maxRotation: 0, autoSkip: false },
            afterFit: (s: any) => { s.height = L.h - L.bottom; },
          },
          y: {
            type: 'linear',
            min: ymin, max: ymax,
            grid: { display: false, drawTicks: false },
            border: { display: false },
            ticks: { stepSize: ystep, callback: fmt, color: '#333', font: tickFont, padding: 9, autoSkip: false },
            afterFit: (s: any) => { s.width = L.left; },
          },
        } as any,
      },
      plugins: [decorPlugin],
    });
    return () => chart.destroy();
  }, [idx]);
  return (
    <canvas
      ref={ref}
      width={L.w}
      height={L.h}
      style={{ position: 'absolute', left: L.x, top: L.y, width: L.w, height: L.h }}
    />
  );
}

export default function App() {
  return (
    <div style={{ position: 'absolute', left: 0, top: 0, width: 1220, height: 865, background: '#fff', overflow: 'hidden' }}>
      {layouts.map((_, i) => <Panel key={i} idx={i} />)}
    </div>
  );
}
